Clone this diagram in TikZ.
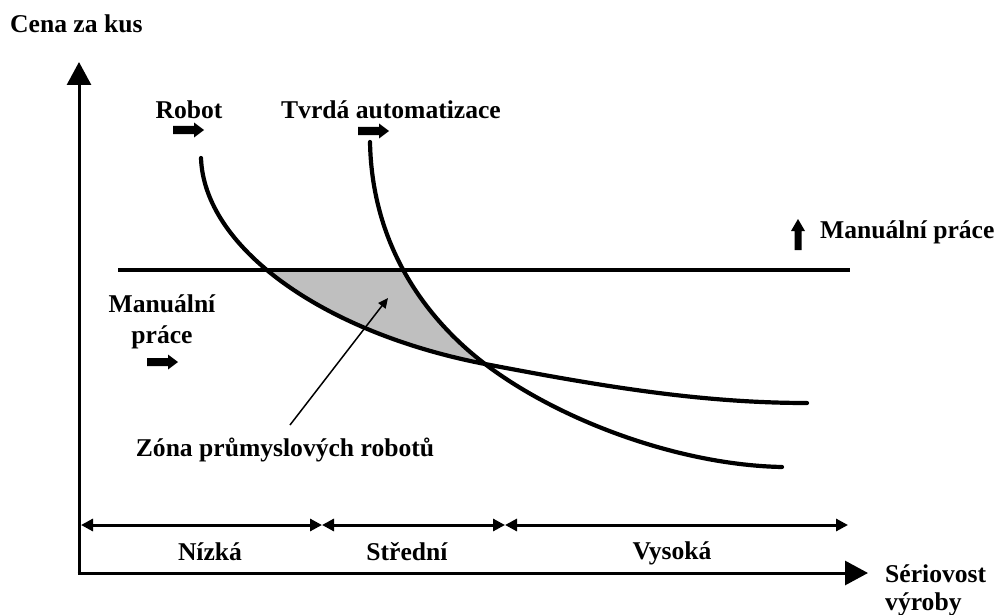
\documentclass[tikz,border=0pt]{standalone}
\usepackage{fontspec}
\setmainfont{Liberation Serif}
\usetikzlibrary{arrows.meta}
\begin{document}
\begin{tikzpicture}[x=1pt,y=-1pt,
  lab/.style={font=\fontsize{25.6}{28}\selectfont\bfseries, inner sep=0pt, anchor=base},
  labw/.style={lab, anchor=base west},
  axis/.style={line width=3pt, -{Triangle[length=23pt,width=24pt]}},
  dim/.style={line width=3pt, {Triangle[length=12pt,width=12pt]}-{Triangle[length=12pt,width=12pt]}},
  curve/.style={line width=4.2pt, line cap=round},
  pointer/.style={line width=1.5pt, -{Triangle[length=10pt,width=9pt]}},
  rarrow/.pic={\fill (0,-4) -- (21,-4) -- (21,-7.5) -- (31,0) -- (21,7.5) -- (21,4) -- (0,4) -- cycle;},
  uarrow/.pic={\fill (-3.5,0) -- (-3.5,-19) -- (-7,-19) -- (0,-31) -- (7,-19) -- (3.5,-19) -- (3.5,0) -- cycle;}
]
\useasboundingbox (0,0) rectangle (995,615);

% curve end points
\coordinate (r0) at (201,158);
\coordinate (x0) at (485,364);
\coordinate (r1) at (807,403);
\coordinate (h0) at (370,142);
\coordinate (h1) at (782,467);

% axes
\coordinate (origin) at (79,573);
\coordinate (ytip) at (79,62);
\coordinate (xtip) at (868,573);
\draw[axis] (origin) -- (ytip);
\draw[axis] (77.5,573) -- (xtip);

% shaded zone
\begin{scope}
  \clip (r0) .. controls (204,246) and (320,332) .. (x0)
        .. controls (600,386) and (700,403) .. (r1) -- (807,0) -- (201,0) -- cycle;
  \clip (h0) .. controls (372,250) and (430,322) .. (x0)
        .. controls (560,421) and (680,465) .. (h1) -- (782,600) -- (0,600) -- (0,142) -- cycle;
  \fill[gray!50] (200,270) rectangle (520,400);
\end{scope}

% manual labour line
\coordinate (mL) at (118,270);
\coordinate (mR) at (850,270);
\draw[line width=4pt] (mL) -- (mR);

% robot curve
\draw[curve] (r0) .. controls (204,246) and (320,332) .. (x0)
             .. controls (600,386) and (700,403) .. (r1);
% hard automation curve
\draw[curve] (h0) .. controls (372,250) and (430,322) .. (x0)
             .. controls (560,421) and (680,465) .. (h1);

% dimension arrows
\coordinate (d0) at (81,525);
\coordinate (d1) at (322,525);
\coordinate (d2) at (505,525);
\coordinate (d3) at (848,525);
\draw[dim] (d0) -- (d1);
\draw[dim] (d1) -- (d2);
\draw[dim] (d2) -- (d3);

% labels
\node[labw] (cena) at (10,33) {Cena za kus};
\node[lab] (robot) at (189,119) {Robot};
\node[lab] (tvrda) at (391,118) {Tvrdá automatizace};
\node[labw] (manR) at (820,238) {Manuální práce};
\node[lab] (manL1) at (162,312) {Manuální};
\node[lab] (manL2) at (162,343) {práce};
\node[lab] (zona) at (285,456) {Zóna průmyslových robotů};
\node[lab] (nizka) at (210,560) {Nízká};
\node[lab] (stredni) at (407,560) {Střední};
\node[lab] (vysoka) at (672,559) {Vysoká};
\node[labw] (seri1) at (885,582) {Sériovost};
\node[labw] (seri2) at (885,610) {výroby};

% block arrows
\pic at (173,130) {rarrow};
\pic at (358,131) {rarrow};
\pic at (147,362) {rarrow};
\pic at (798,250) {uarrow};

% pointer
\coordinate (ptail) at (290,425);
\coordinate (ptip) at (388,298);
\draw[pointer] (ptail) -- (ptip);
\end{tikzpicture}
\end{document}
